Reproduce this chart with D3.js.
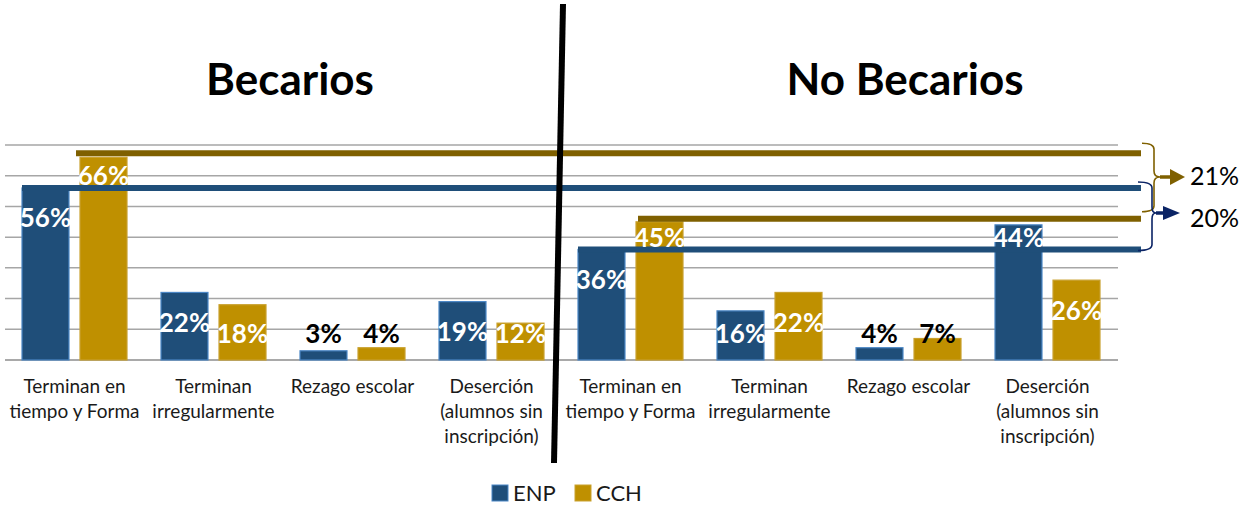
<!DOCTYPE html>
<html><head><meta charset="utf-8">
<script src="https://cdn.jsdelivr.net/npm/d3@7"></script>
<style>body{margin:0;background:#fff}svg{display:block}text{font-family:Lato,"Open Sans",sans-serif}</style>
</head><body><svg id="c" width="1241" height="506"></svg>
<script>
const categories = ["Terminan en\ntiempo y Forma","Terminan\nirregularmente","Rezago escolar","Deserción\n(alumnos sin\ninscripción)"];
const groups = ["Becarios","No Becarios"];
const series = ["ENP","CCH"];
const enp = [56,22,3,19,36,16,4,44];
const cch = [66,18,4,12,45,22,7,26];
const yTicks = [0,10,20,30,40,50,60,70];
const colors = {ENP:"#1F4E79", CCH:"#BF9000"};
const strokes = {ENP:"#4A86C5", CCH:"#C9A12E"};
const lineColors = {ENP:"#1F4E79", CCH:"#7F6000"};
const braceColors = {CCH:"#7F6000", ENP:"#0B2465"};

const svg = d3.select("#c");
const allCats = d3.range(categories.length*groups.length);
const x0 = d3.scaleBand().domain(allCats).range([5,1117]);
const x1 = d3.scaleBand().domain(series).range([17, x0.bandwidth()-17]).paddingInner(0.19);
const y = d3.scaleLinear().domain([0,70]).range([360,145]);

// gridlines
svg.append("g").selectAll("line").data(yTicks).join("line")
  .attr("x1",5).attr("x2",1118).attr("y1",d=>y(d)).attr("y2",d=>y(d))
  .attr("stroke",d=>d===0?"#8c8c8c":"#a6a6a6").attr("stroke-width",1.5);

// titles
svg.append("g").selectAll("text").data(groups).join("text")
  .attr("x",(d,i)=>i===0?290:905).attr("y",95).attr("text-anchor","middle")
  .attr("font-size",44).attr("font-weight",700).attr("fill","#000").text(d=>d);

// bars
const rows = allCats.map(i=>({i, ENP:enp[i], CCH:cch[i]}));
const pts = rows.flatMap(d=>series.map(s=>({i:d.i,s,v:d[s]})));
svg.append("g").selectAll("rect").data(pts).join("rect")
  .attr("x",d=>x0(d.i)+x1(d.s)).attr("width",x1.bandwidth())
  .attr("y",d=>y(d.v)).attr("height",d=>y(0)-y(d.v))
  .attr("fill",d=>colors[d.s]).attr("stroke",d=>strokes[d.s]).attr("stroke-width",1.2);

// comparison lines (Terminan en tiempo y forma)
const cmp = [
  {s:"CCH", v:cch[0], i:0, dy:-4, dx:-4},
  {s:"ENP", v:enp[0], i:0, dy:0, dx:0},
  {s:"CCH", v:cch[4], i:4, dy:-3, dx:2},
  {s:"ENP", v:enp[4], i:4, dy:0, dx:0}
];
cmp.forEach(d=>{d.ly=y(d.v)+d.dy; d.lx=x0(d.i)+x1(d.s)+d.dx;});
svg.append("g").selectAll("line").data(cmp).join("line")
  .attr("x1",d=>d.lx).attr("x2",1141)
  .attr("y1",d=>d.ly).attr("y2",d=>d.ly)
  .attr("stroke",d=>lineColors[d.s]).attr("stroke-width",6);

// labels (placed inside bar, moved above a crossing line)
function labelY(d){
  let c = Math.min(y(d.v)+30, y(8.5));
  const bx = x0(d.i)+x1(d.s);
  cmp.forEach(l=>{ if (bx+x1.bandwidth()>l.lx && Math.abs(c-l.ly)<14) c = l.ly-12; });
  return c;
}
svg.append("g").selectAll("text").data(pts).join("text")
  .attr("x",d=>x0(d.i)+x1(d.s)+x1.bandwidth()/2)
  .attr("y",labelY)
  .attr("dy","0.36em").attr("text-anchor","middle")
  .attr("font-size",26).attr("font-weight",700)
  .attr("fill",d=>d.v>=10?"#fff":"#000").text(d=>d.v+"%");

// category labels
const lab = svg.append("g").selectAll("text").data(allCats).join("text")
  .attr("text-anchor","middle").attr("font-size",19).attr("fill","#1a1a1a");
lab.each(function(i){
  const lines = categories[i%categories.length].split("\n");
  d3.select(this).selectAll("tspan").data(lines).join("tspan")
    .attr("x",x0(i)+x0.bandwidth()/2).attr("y",(d,k)=>393+k*25).text(d=>d);
});

// divider
svg.append("line").attr("x1",563).attr("y1",4).attr("x2",554).attr("y2",463)
  .attr("stroke","#000").attr("stroke-width",6);

// braces + arrows
function brace(x0b,x1b,xt,yt,ym,yb){
  const r=6;
  return `M${x0b},${yt} Q${x1b},${yt} ${x1b},${yt+r} L${x1b},${ym-r} Q${x1b},${ym} ${xt},${ym} Q${x1b},${ym} ${x1b},${ym+r} L${x1b},${yb-r} Q${x1b},${yb} ${x0b},${yb}`;
}
const diffs = [
  {s:"CCH", a:cch[0], b:cch[4], x0b:1142, x1b:1154, xt:1160, yt:y(cch[0])-14, yb:y(cch[4])-10, ym:177, ah:1185, hw:8, hl:15, ty:185},
  {s:"ENP", a:enp[0], b:enp[4], x0b:1138, x1b:1152, xt:1156, yt:y(enp[0])-6, yb:y(enp[4])+1, ym:213, ah:1180, hw:7, hl:17, ty:227}
];
const bg = svg.append("g");
diffs.forEach(d=>{
  const ym = d.ym;
  bg.append("path").attr("d",brace(d.x0b,d.x1b,d.xt,d.yt,ym,d.yb))
    .attr("fill","none").attr("stroke",braceColors[d.s]).attr("stroke-width",1.6);
  bg.append("line").attr("x1",d.xt).attr("x2",d.ah-d.hl+1).attr("y1",ym).attr("y2",ym)
    .attr("stroke",braceColors[d.s]).attr("stroke-width",3.5);
  bg.append("path").attr("d",`M${d.ah-d.hl},${ym-d.hw} L${d.ah},${ym} L${d.ah-d.hl},${ym+d.hw} Z`)
    .attr("fill",braceColors[d.s]);
  bg.append("text").attr("x",1190).attr("y",d.ty).attr("font-size",25).attr("fill","#000")
    .text((d.a-d.b)+"%");
});

// legend
const leg = svg.append("g").selectAll("g").data(series).join("g")
  .attr("transform",(d,i)=>`translate(${i===0?492:575},485)`);
leg.append("rect").attr("width",16).attr("height",16).attr("fill",d=>colors[d])
  .attr("stroke",d=>strokes[d]).attr("stroke-width",1);
leg.append("text").attr("x",21).attr("y",15.5).attr("font-size",22).attr("fill","#1a1a1a").text(d=>d);
</script></body></html>
